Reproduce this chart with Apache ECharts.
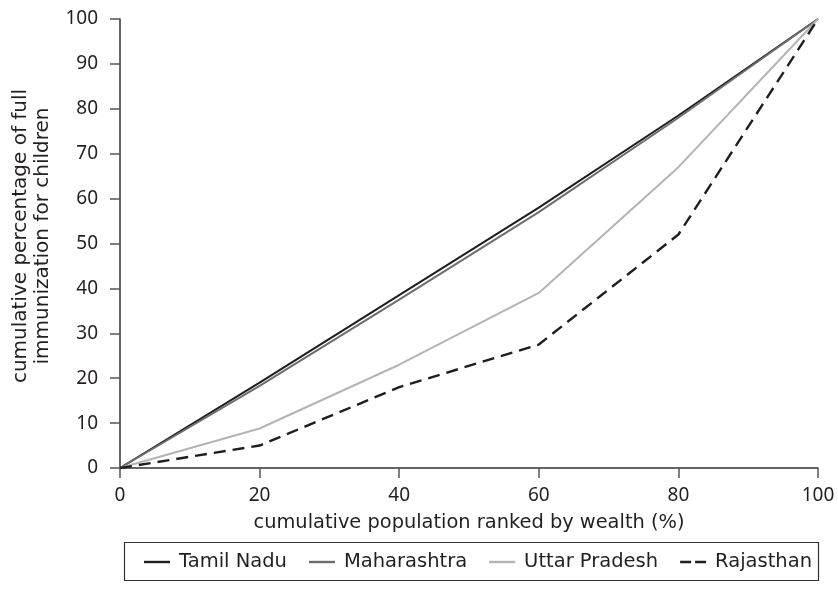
<!DOCTYPE html>
<html><head><meta charset="utf-8">
<script src="https://cdn.jsdelivr.net/npm/echarts@6/dist/echarts.min.js"></script>
<style>html,body{margin:0;padding:0;background:#fff}#c{width:838px;height:607px}</style>
</head><body><div id="c"></div>
<script>
const xValues = [0, 20, 40, 60, 80, 100];
const tamilNadu = [0, 19, 38.5, 58, 78.5, 100];
const maharashtra = [0, 18.3, 37.5, 57, 78, 100];
const uttarPradesh = [0, 8.8, 23, 39, 67, 100];
const rajasthan = [0, 5, 18, 27.5, 52, 100];
const names = ['Tamil Nadu', 'Maharashtra', 'Uttar Pradesh', 'Rajasthan'];
const xTitle = 'cumulative population ranked by wealth (%)';
const yTitle = 'cumulative percentage of full\nimmunization for children';
const FONT = 'DejaVu Sans';
const TICKFONT = 'Noto Sans';
const TXT = '#231f20';
const SOLID_ICON = 'path://M0,0h26v2.4h-26z';
const DASH_ICON = 'path://M0,0h11v2.4h-11z M15,0h11v2.4h-11z';
function pairs(v){ return xValues.map((x,i)=>[x, v[i]]); }
const chart = echarts.init(document.getElementById('c'), null, {renderer:'canvas'});
function ser(name, data, color, type, w){
  return {name, type:'line', data:pairs(data), symbol:'none', showSymbol:false,
    lineStyle:{color, width:w||2, type:type||'solid'},
    itemStyle:{color}, animation:false};
}
chart.setOption({
  backgroundColor:'#fff',
  animation:false,
  grid:{left:120, right:20, top:19, bottom:139, containLabel:false, outerBoundsMode:'none'},
  xAxis:{type:'value', min:0, max:100, interval:20,
    name:xTitle, nameLocation:'middle', nameGap:45,
    nameTextStyle:{fontFamily:FONT, fontSize:19.4, color:TXT},
    axisLine:{show:true, onZero:false, lineStyle:{color:'#333', width:1.5}},
    axisTick:{show:true, length:10, lineStyle:{color:'#555', width:1.5}},
    axisLabel:{fontFamily:TICKFONT, fontSize:19, color:TXT, margin:18},
    splitLine:{show:false}},
  yAxis:{type:'value', min:0, max:100, interval:10,
    axisLine:{show:true, lineStyle:{color:'#333', width:1.5}},
    axisTick:{show:true, length:10, lineStyle:{color:'#555', width:1.5}},
    axisLabel:{fontFamily:TICKFONT, fontSize:19, color:TXT, margin:22},
    splitLine:{show:false}},
  legend:{show:true, left:139, top:547, itemWidth:26, itemHeight:2.4, itemGap:22,
    data:[
      {name:names[0], icon:SOLID_ICON},
      {name:names[1], icon:SOLID_ICON},
      {name:names[2], icon:SOLID_ICON},
      {name:names[3], icon:DASH_ICON}
    ],
    textStyle:{fontFamily:FONT, fontSize:19.5, color:TXT, padding:[0,0,0,4]}},
  graphic:[
    {type:'rect', left:122, top:540, z:100, shape:{x:0, y:0, width:694, height:38},
      style:{fill:null, stroke:'#333', lineWidth:1.2}, silent:true},
    {type:'text', x:32, y:236, rotation:Math.PI/2, z:100, silent:true,
      style:{text:yTitle, fontFamily:FONT, fontSize:20, fill:TXT, align:'center', verticalAlign:'middle', lineHeight:22}}
  ],
  series:[
    ser(names[0], tamilNadu, '#1e1e1e'),
    ser(names[1], maharashtra, '#6d6d6d'),
    ser(names[2], uttarPradesh, '#b4b4b4'),
    ser(names[3], rajasthan, '#1e1e1e', [12,7], 2.4)
  ]
});
</script></body></html>
